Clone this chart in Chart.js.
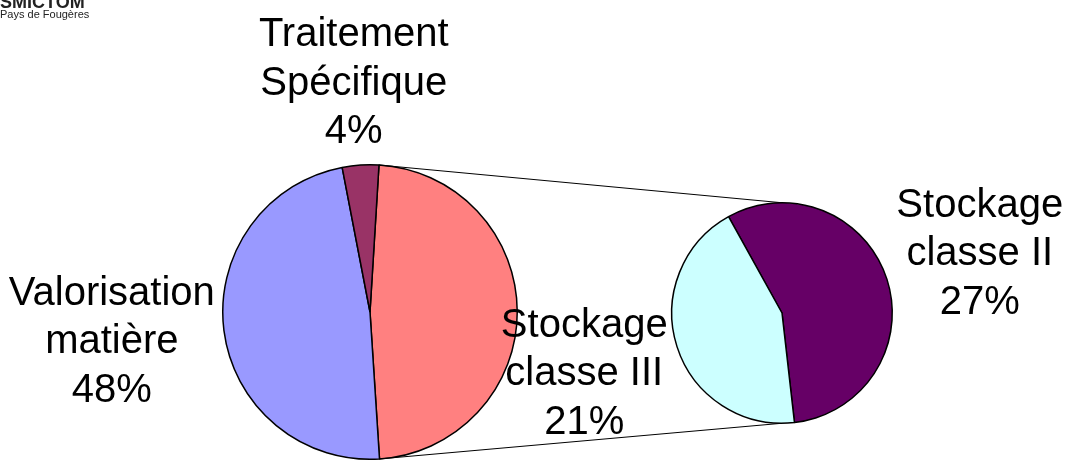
<!DOCTYPE html>
<html>
<head>
<meta charset="utf-8">
<script src="https://cdn.jsdelivr.net/npm/chart.js@4"></script>
<style>
  body { margin: 0; background: #fff; }
  #wrap { position: relative; width: 1067px; height: 461px; }
  #wrap canvas { position: absolute; left: 0; top: 0; }
</style>
</head>
<body>
<div id="wrap">
  <canvas id="mainPie" width="1067" height="461"></canvas>
  <canvas id="subPie" width="1067" height="461"></canvas>
</div>
<script>
// main pie: the "Stockage" slice is split out in the small pie
var mainLabels = ['Stockage', 'Valorisation matière', 'Traitement Spécifique'];
var mainValues = [48, 48, 4];
var mainColors = ['#FF8080', '#9999FF', '#993366'];
var mainLines = [null, ['Valorisation', 'matière'], ['Traitement', 'Spécifique']];

// secondary pie
var subLabels = ['Stockage classe II', 'Stockage classe III'];
var subValues = [27, 21];
var subColors = ['#660066', '#CCFFFF'];
var subLines = [['Stockage', 'classe II'], ['Stockage', 'classe III']];

var total = mainValues.reduce(function (a, b) { return a + b; }, 0);
var FONT = '40px "Liberation Sans", Arial, sans-serif';
var LINE_H = 48.5;

// labels outside each slice, like the office chart
function sliceLabels(lines, gap) {
  return {
    id: 'sliceLabels',
    afterDatasetsDraw: function (chart) {
      var ctx = chart.ctx;
      var meta = chart.getDatasetMeta(0);
      var values = chart.data.datasets[0].data;
      ctx.save();
      ctx.font = FONT;
      ctx.fillStyle = '#000';
      ctx.textAlign = 'center';
      ctx.textBaseline = 'alphabetic';
      meta.data.forEach(function (arc, i) {
        if (!lines[i]) return;
        var text = lines[i].concat([Math.round(values[i] / total * 100) + '%']);
        var w = 0;
        text.forEach(function (t) { w = Math.max(w, ctx.measureText(t).width); });
        var h = text.length * LINE_H;
        var mid = (arc.startAngle + arc.endAngle) / 2;
        var r = arc.outerRadius + gap;
        var px = arc.x + r * Math.cos(mid);
        var py = arc.y + r * Math.sin(mid);
        var cx = px + w / 2 * Math.cos(mid);
        var cy = py + h / 2 * Math.sin(mid);
        text.forEach(function (t, k) {
          ctx.fillText(t, cx, cy - h / 2 + LINE_H * (k + 1) - 12);
        });
      });
      ctx.restore();
    }
  };
}

var logo = {
  id: 'logo',
  afterDraw: function (chart) {
    var ctx = chart.ctx;
    ctx.save();
    ctx.fillStyle = '#222';
    ctx.textAlign = 'left';
    ctx.textBaseline = 'alphabetic';
    ctx.font = 'bold 18px "Liberation Sans", Arial, sans-serif';
    ctx.fillText('SMICTOM', 0, 8);
    ctx.font = '11px "Liberation Sans", Arial, sans-serif';
    ctx.fillText('Pays de Fougères', 0, 18);
    ctx.restore();
  }
};

var mainChart = new Chart(document.getElementById('mainPie'), {
  type: 'pie',
  data: {
    labels: mainLabels,
    datasets: [{
      data: mainValues,
      backgroundColor: mainColors,
      borderColor: '#000',
      borderWidth: 1.5
    }]
  },
  options: {
    responsive: false,
    animation: false,
    rotation: 3.5,
    layout: { padding: { left: 222, right: 549, top: 164, bottom: 1 } },
    plugins: { legend: { display: false }, tooltip: { enabled: false } }
  },
  plugins: [sliceLabels(mainLines, 10), logo]
});

// lines joining the split slice to the small pie
var connectors = {
  id: 'connectors',
  beforeDatasetsDraw: function (chart) {
    var big = mainChart.getDatasetMeta(0).data[0];
    var small = chart.getDatasetMeta(0).data[0];
    var ctx = chart.ctx;
    ctx.save();
    ctx.strokeStyle = '#000';
    ctx.lineWidth = 1;
    ctx.beginPath();
    ctx.moveTo(big.x + big.outerRadius * Math.cos(big.startAngle), big.y + big.outerRadius * Math.sin(big.startAngle));
    ctx.lineTo(small.x, small.y - small.outerRadius);
    ctx.moveTo(big.x + big.outerRadius * Math.cos(big.endAngle), big.y + big.outerRadius * Math.sin(big.endAngle));
    ctx.lineTo(small.x, small.y + small.outerRadius);
    ctx.stroke();
    ctx.restore();
  }
};

var subChart = new Chart(document.getElementById('subPie'), {
  type: 'pie',
  data: {
    labels: subLabels,
    datasets: [{
      data: subValues,
      backgroundColor: subColors,
      borderColor: '#000',
      borderWidth: 1.5
    }]
  },
  options: {
    responsive: false,
    animation: false,
    rotation: -29,
    layout: { padding: { left: 671, right: 174, top: 202, bottom: 37 } },
    plugins: { legend: { display: false }, tooltip: { enabled: false } }
  },
  plugins: [connectors, sliceLabels(subLines, 14)]
});
</script>
</body>
</html>
